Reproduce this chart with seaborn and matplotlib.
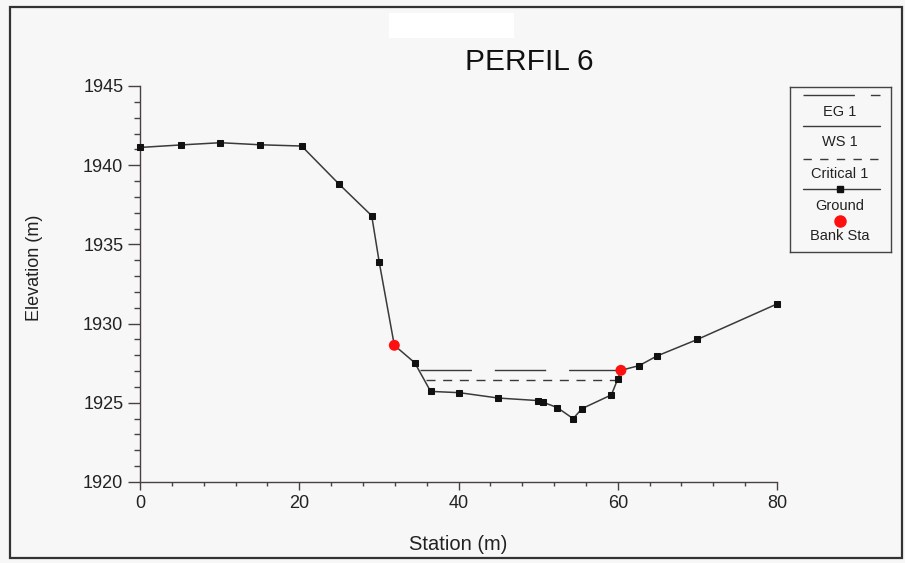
import matplotlib
matplotlib.use("Agg")
import matplotlib.pyplot as plt
import seaborn as sns
import pandas as pd
from matplotlib.patches import Rectangle
from matplotlib.lines import Line2D
from matplotlib.ticker import MultipleLocator

# ---------------- data ----------------
station = [0.0, 5.15, 10.1, 15.07, 20.3, 25.03, 29.1, 30.05, 31.94, 34.5, 36.5,
           40.1, 45.0, 50.0, 50.6, 52.4, 54.4, 55.5, 59.2, 60.0, 60.4, 62.7,
           64.9, 70.0, 80.0]
ground = [1941.12, 1941.28, 1941.42, 1941.29, 1941.21, 1938.79, 1936.81,
          1933.86, 1928.63, 1927.53, 1925.72, 1925.64, 1925.3, 1925.14,
          1925.04, 1924.7, 1924.0, 1924.63, 1925.5, 1926.5, 1927.05, 1927.35,
          1927.95, 1929.0, 1931.24]
bank_station = [31.94, 60.4]
bank_elev = [1928.63, 1927.05]
eg_station = [35.2, 60.4]
eg_elev = [1927.05, 1927.05]
ws_station = [35.2, 60.4]
ws_elev = [1927.05, 1927.05]
crit_station = [35.9, 59.9]
crit_elev = [1926.42, 1926.42]
x_ticks = [0, 20, 40, 60, 80]
y_ticks = [1920, 1925, 1930, 1935, 1940, 1945]
title_text = "PERFIL 6"
x_label = "Station (m)"
y_label = "Elevation (m)"
legend_labels = ["EG 1", "WS 1", "Critical 1", "Ground", "Bank Sta"]

# ---------------- style ----------------
sns.set_style("ticks")
plt.rcParams['font.family'] = ['Liberation Sans', 'DejaVu Sans']
bg = '#f7f7f7'
axcol = '#4a4040'
linecol = '#3a3a3a'

W, H = 905, 563
fig = plt.figure(figsize=(W / 100, H / 100), dpi=100, facecolor=bg)
ax = fig.add_axes([140 / W, 1 - 482 / H, 637 / W, 396 / H])
ax.set_facecolor('none')

df_ground = pd.DataFrame({"Station": station, "Elevation": ground})
df_bank = pd.DataFrame({"Station": bank_station, "Elevation": bank_elev})
df_eg = pd.DataFrame({"Station": eg_station, "Elevation": eg_elev})
df_crit = pd.DataFrame({"Station": crit_station, "Elevation": crit_elev})

# EG 1 (long dashes)
sns.lineplot(data=df_eg, x="Station", y="Elevation", ax=ax, color=linecol,
             lw=1.0, estimator=None, sort=False, zorder=2)
ax.lines[-1].set_dashes((37, 16.5))
# Critical 1 (short dashes)
sns.lineplot(data=df_crit, x="Station", y="Elevation", ax=ax, color=linecol,
             lw=1.0, estimator=None, sort=False, zorder=2)
ax.lines[-1].set_dashes((6.5, 5.5))
# Ground
sns.lineplot(data=df_ground, x="Station", y="Elevation", ax=ax, color=linecol,
             lw=1.1, marker='s', markersize=4.3, markerfacecolor='#111111',
             markeredgecolor='#111111', estimator=None, sort=False, zorder=3,
             clip_on=False)
# Bank stations
sns.scatterplot(data=df_bank, x="Station", y="Elevation", ax=ax, color='#ff1010',
                s=62, edgecolor='none', zorder=4, clip_on=False)

ax.set_xlim(0, 80)
ax.set_ylim(1920, 1945)
ax.set_xticks(x_ticks)
ax.set_yticks(y_ticks)
ax.xaxis.set_minor_locator(MultipleLocator(4))
ax.yaxis.set_minor_locator(MultipleLocator(1))
ax.tick_params(axis='y', which='major', length=9, width=1, color=axcol,
               labelsize=13, pad=3, labelcolor='#222222')
ax.tick_params(axis='y', which='minor', length=4, width=1, color=axcol)
ax.tick_params(axis='x', which='major', length=6, width=1, color=axcol,
               labelsize=13, pad=3, labelcolor='#222222')
ax.tick_params(axis='x', which='minor', length=3, width=1, color=axcol)
for s in ['top', 'right']:
    ax.spines[s].set_visible(False)
for s in ['left', 'bottom']:
    ax.spines[s].set_color(axcol)
    ax.spines[s].set_linewidth(1.0)

ax.set_xlabel(x_label, fontsize=14.5, color='#222222')
ax.set_ylabel(y_label, fontsize=13, color='#222222')
ax.xaxis.set_label_coords((458 - 140) / 637, -(535 - 482) / 396)
ax.yaxis.set_label_coords((43 - 140) / 637, (482 - 267.5) / 396)

# title
fig.text(529 / W, 1 - 70 / H, title_text, ha='center', va='baseline',
         fontsize=21.5, color='#111111')

# white blank box near the top
fig.patches.append(Rectangle((389 / W, 1 - 38 / H), 125 / W, 25 / H,
                             transform=fig.transFigure, facecolor='white',
                             edgecolor='none', zorder=0))
# outer frame
fig.patches.append(Rectangle((10 / W, 1 - 558 / H), 892 / W, 551 / H,
                             transform=fig.transFigure, facecolor='none',
                             edgecolor='#333333', lw=1.6, zorder=5))

# ---------------- legend (sample above label) ----------------
lax = fig.add_axes([790 / W, 1 - 252 / H, 101 / W, 165 / H])
lax.set_facecolor('none')
lax.set_xlim(790, 891)
lax.set_ylim(252, 87)
lax.set_xticks([])
lax.set_yticks([])
for s in lax.spines.values():
    s.set_color('#444444')
    s.set_linewidth(1.0)
    s.set_visible(True)

l1 = Line2D([803, 880], [95, 95], color=linecol, lw=1.0)
l1.set_dashes((37, 11.5))
l2 = Line2D([803, 880], [126, 126], color=linecol, lw=1.0)
l3 = Line2D([803, 880], [159, 159], color=linecol, lw=1.0)
l3.set_dashes((6, 6))
l4 = Line2D([803, 880], [189, 189], color=linecol, lw=1.0)
l5 = Line2D([840], [189], marker='s', markersize=4.2, color='#111111', lw=0)
l6 = Line2D([840], [221], marker='o', markersize=8, color='#ff1010', lw=0)
for ln in (l1, l2, l3, l4, l5, l6):
    lax.add_line(ln)
for lbl, yy in zip(legend_labels, [112, 142, 174, 206, 236]):
    lax.text(840, yy, lbl, ha='center', va='center', fontsize=10.5,
             color='#222222')

fig.savefig("out.png", dpi=100, facecolor=bg)
